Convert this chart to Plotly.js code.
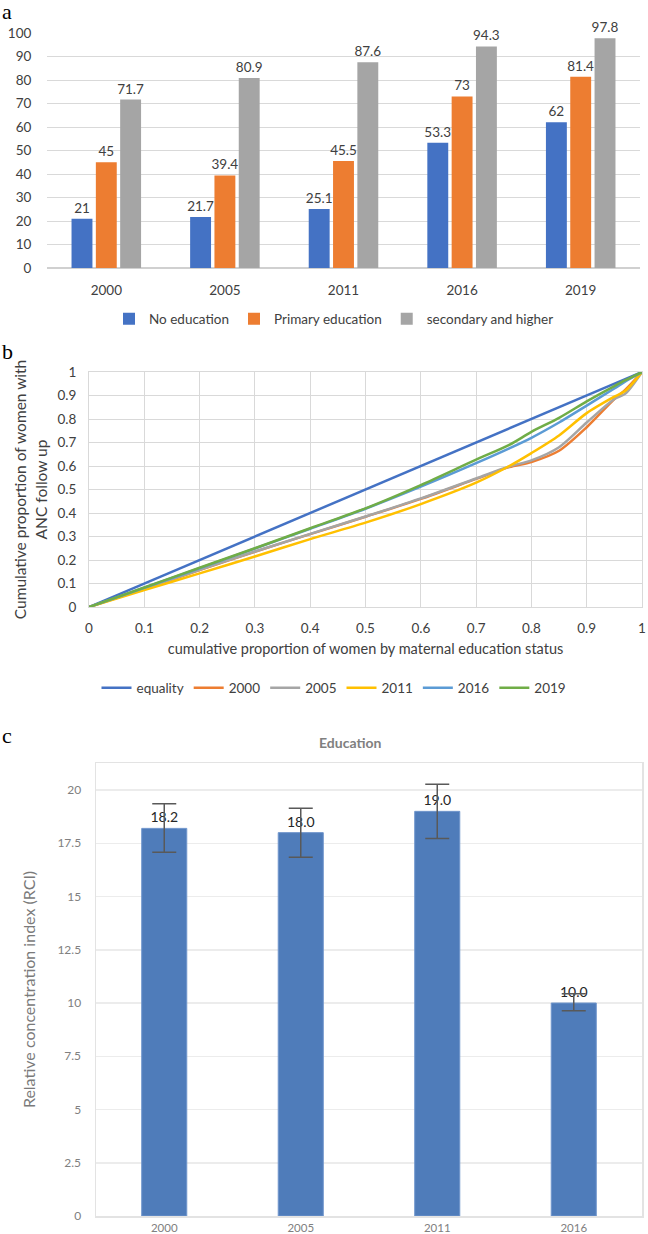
<!DOCTYPE html>
<html>
<head>
<meta charset="utf-8">
<script src="https://cdn.plot.ly/plotly-3.0.1.min.js"></script>
<style>
html,body{margin:0;padding:0;background:#fff;}
#chart{width:648px;height:1234px;}
</style>
</head>
<body>
<div id="chart"></div>
<script>
// ---------- Panel a data ----------
const yearsA = ['2000', '2005', '2011', '2016', '2019'];
const noEducation = [21, 21.7, 25.1, 53.3, 62];
const primaryEducation = [45, 39.4, 45.5, 73, 81.4];
const secondaryHigher = [71.7, 80.9, 87.6, 94.3, 97.8];
const seriesNamesA = ['No education', 'Primary education', 'secondary and higher'];

// ---------- Panel b data (concentration curves) ----------
const cumWomen = [0, 0.1, 0.2, 0.3, 0.4, 0.5, 0.6, 0.7, 0.76, 0.8, 0.85, 0.9, 0.95, 0.97, 1];
const equalityX = [0, 1];
const equalityY = [0, 1];
const curve2000 = [0, 0.077, 0.157, 0.235, 0.31, 0.384, 0.46, 0.545, 0.595, 0.617, 0.665, 0.765, 0.885, 0.925, 1];
const curve2005 = [0, 0.078, 0.158, 0.236, 0.311, 0.385, 0.462, 0.547, 0.598, 0.624, 0.68, 0.785, 0.885, 0.908, 1];
const curve2011 = [0, 0.072, 0.143, 0.215, 0.289, 0.359, 0.438, 0.529, 0.6, 0.655, 0.73, 0.825, 0.895, 0.92, 1];
const curve2016 = [0, 0.082, 0.165, 0.249, 0.333, 0.418, 0.512, 0.612, 0.675, 0.72, 0.785, 0.857, 0.93, 0.96, 1];
const curve2019 = [0, 0.083, 0.167, 0.25, 0.335, 0.42, 0.519, 0.627, 0.69, 0.745, 0.805, 0.875, 0.94, 0.965, 1];

// ---------- Panel c data ----------
const yearsC = ['2000', '2005', '2011', '2016'];
const rci = [18.2, 18.0, 19.0, 10.0];
const rciUpper = [19.36, 19.14, 20.27, 10.44];
const rciLower = [17.08, 16.84, 17.73, 9.64];

const FONT = 'Lato, "Open Sans", sans-serif';
const TXT = '#404040';

const colsA = ['#4472C4', '#ED7D31', '#A5A5A5'];
const valsA = [noEducation, primaryEducation, secondaryHigher];

const traces = [];
valsA.forEach((v, i) => {
  traces.push({
    type: 'bar', x: yearsA, y: v, name: seriesNamesA[i],
    marker: {color: colsA[i]},
    text: v.map(String), textposition: 'outside', cliponaxis: false, constraintext: 'none',
    textfont: {family: FONT, size: 13.5, color: TXT},
    xaxis: 'x', yaxis: 'y', legend: 'legend', hoverinfo: 'x+y'
  });
});

const curves = [
  {name: 'equality', x: equalityX, y: equalityY, color: '#4472C4'},
  {name: '2000', x: cumWomen, y: curve2000, color: '#ED7D31'},
  {name: '2005', x: cumWomen, y: curve2005, color: '#A5A5A5'},
  {name: '2011', x: cumWomen, y: curve2011, color: '#FFC000'},
  {name: '2016', x: cumWomen, y: curve2016, color: '#5B9BD5'},
  {name: '2019', x: cumWomen, y: curve2019, color: '#70AD47'}
];
curves.forEach(c => {
  traces.push({
    type: 'scatter', mode: 'lines', x: c.x, y: c.y, name: c.name,
    line: {color: c.color, width: 2.5, shape: 'spline', smoothing: 0.8},
    xaxis: 'x2', yaxis: 'y2', legend: 'legend2'
  });
});

traces.push({
  type: 'bar', x: yearsC, y: rci, width: 0.33,
  marker: {color: '#4F7CBA', line: {color: '#6F95CC', width: 1}},
  text: rci.map(v => v.toFixed(1)), textposition: 'outside', cliponaxis: false, constraintext: 'none',
  textfont: {family: FONT, size: 14, color: '#262626'},
  error_y: {type: 'data', symmetric: false,
    array: rciUpper.map((u, i) => u - rci[i]),
    arrayminus: rci.map((v, i) => v - rciLower[i]),
    color: '#595959', thickness: 1.5, width: 12},
  xaxis: 'x3', yaxis: 'y3', showlegend: false
});

const H = 1234, W = 648;
const py = p => 1 - p / H;
const px = p => p / W;

const layout = {
  width: W, height: H,
  margin: {l: 0, r: 0, t: 0, b: 0},
  paper_bgcolor: '#fff', plot_bgcolor: '#fff',
  font: {family: FONT, color: TXT, size: 13},
  barmode: 'group', bargap: 0.385, bargroupgap: 0.14,
  showlegend: true,
  // panel a
  xaxis: {domain: [px(47), px(640)], anchor: 'y', type: 'category',
    showgrid: false, zeroline: false, showline: false,
    ticks: 'outside', ticklen: 10, tickcolor: 'rgba(0,0,0,0)',
    tickfont: {family: FONT, size: 13.5, color: TXT}},
  yaxis: {domain: [py(268), py(33)], anchor: 'x', range: [0, 100], dtick: 10,
    gridcolor: '#d9d9d9', gridwidth: 1, zeroline: true, zerolinecolor: '#d0d0d0', zerolinewidth: 1.5,
    ticks: 'outside', ticklen: 12, tickcolor: 'rgba(0,0,0,0)',
    tickfont: {family: FONT, size: 13.5, color: TXT}},
  // panel b
  xaxis2: {domain: [px(89), px(642)], anchor: 'y2', range: [0, 1], dtick: 0.1,
    showgrid: true, gridcolor: '#d9d9d9', zeroline: false,
    showline: true, mirror: true, linecolor: '#d9d9d9', linewidth: 1,
    ticks: 'outside', ticklen: 9, tickcolor: 'rgba(0,0,0,0)',
    tickfont: {family: FONT, size: 13.5, color: TXT},
    title: {text: 'cumulative proportion of women by maternal education status',
      font: {family: FONT, size: 14.5, color: TXT}, standoff: 8}},
  yaxis2: {domain: [py(607), py(372)], anchor: 'x2', range: [0, 1], dtick: 0.1,
    showgrid: true, gridcolor: '#d9d9d9', zeroline: false,
    showline: true, mirror: true, linecolor: '#d9d9d9', linewidth: 1,
    ticks: 'outside', ticklen: 9, tickcolor: 'rgba(0,0,0,0)',
    tickfont: {family: FONT, size: 13.5, color: TXT},
    title: {text: 'Cumulative proportion of women with<br>ANC follow up',
      font: {family: FONT, size: 15.5, color: TXT}, standoff: 6}},
  // panel c
  xaxis3: {domain: [px(96), px(642)], anchor: 'y3', type: 'category',
    showgrid: false, zeroline: false,
    showline: true, mirror: true, linecolor: '#e3e3e3', linewidth: 1.5,
    ticks: 'outside', ticklen: 1, tickcolor: 'rgba(0,0,0,0)',
    tickfont: {family: FONT, size: 11.5, color: '#808080'}},
  yaxis3: {domain: [py(1216), py(763)], anchor: 'x3', range: [0, 21.27], dtick: 2.5,
    gridcolor: '#ececec', gridwidth: 1.5, zeroline: false,
    showline: true, mirror: true, linecolor: '#e3e3e3', linewidth: 1.5,
    ticks: 'outside', ticklen: 11, tickcolor: 'rgba(0,0,0,0)',
    tickfont: {family: FONT, size: 12, color: '#808080'},
    title: {text: 'Relative concentration index (RCI)',
      font: {family: FONT, size: 16, color: '#7a7a7a'}, standoff: 18}},
  legend: {orientation: 'h', x: px(334), xanchor: 'center', y: py(319), yanchor: 'middle',
    font: {family: FONT, size: 13.5, color: TXT}, itemwidth: 30, bgcolor: 'rgba(0,0,0,0)'},
  legend2: {orientation: 'h', x: px(334), xanchor: 'center', y: py(688), yanchor: 'middle',
    font: {family: FONT, size: 13.5, color: TXT}, bgcolor: 'rgba(0,0,0,0)'},
  annotations: [
    {text: 'a', xref: 'paper', yref: 'paper', x: 0, y: py(12), xanchor: 'left', yanchor: 'middle',
      showarrow: false, font: {family: '"Liberation Serif", "DejaVu Serif", serif', size: 22, color: '#000'}},
    {text: 'b', xref: 'paper', yref: 'paper', x: 0, y: py(351), xanchor: 'left', yanchor: 'middle',
      showarrow: false, font: {family: '"Liberation Serif", "DejaVu Serif", serif', size: 22, color: '#000'}},
    {text: 'c', xref: 'paper', yref: 'paper', x: 0, y: py(735), xanchor: 'left', yanchor: 'middle',
      showarrow: false, font: {family: '"Liberation Serif", "DejaVu Serif", serif', size: 22, color: '#000'}},
    {text: '<b>Education</b>', xref: 'paper', yref: 'paper', x: px(350), y: py(742), xanchor: 'center', yanchor: 'middle',
      showarrow: false, font: {family: FONT, size: 14, color: '#808080'}}
  ]
};

Plotly.newPlot('chart', traces, layout, {staticPlot: true, displayModeBar: false});
</script>
</body>
</html>
